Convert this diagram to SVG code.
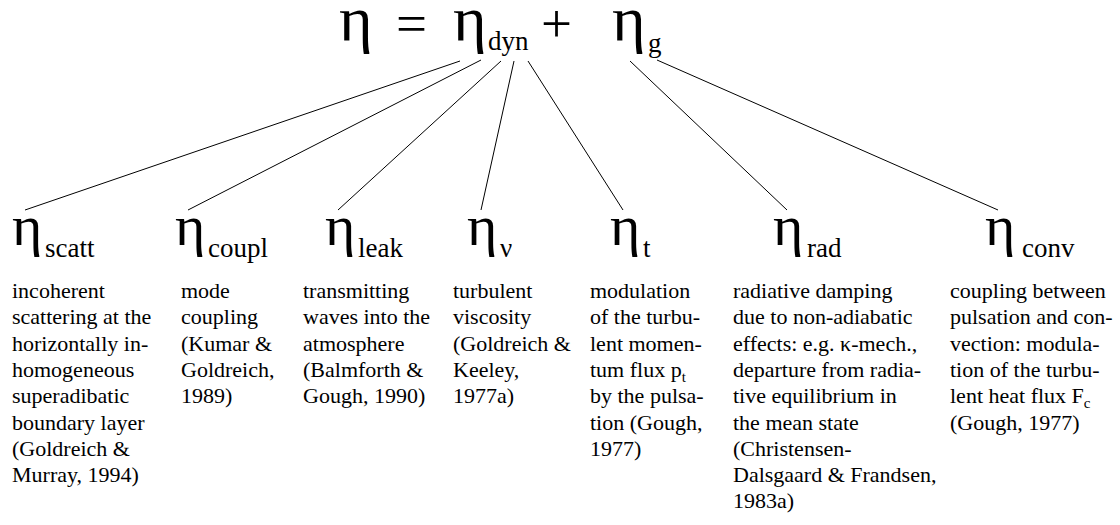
<svg xmlns="http://www.w3.org/2000/svg" width="1120" height="525" viewBox="0 0 1120 525">
<style>
text{font-family:"Liberation Serif","Times New Roman",serif;fill:#000}
.eta{font-size:58px}
.teta{font-size:56px}
.op{font-size:55px}
.sub{font-size:27px}
.body{font-size:22px}
.small{font-size:15px}
line{stroke:#000;stroke-width:1}
</style>
<rect width="1120" height="525" fill="#fff"/>
<g id="title">
<text class="teta" transform="translate(339,40) scale(1.15,1.12)">η</text>
<text class="op" x="396" y="42">=</text>
<text class="teta" transform="translate(453,40) scale(1.15,1.12)">η</text>
<text class="sub" x="488" y="50">dyn</text>
<text class="op" x="541" y="42">+</text>
<text class="teta" transform="translate(612,40) scale(1.15,1.12)">η</text>
<text class="sub" x="648" y="52">g</text>
</g>
<g id="connectors">
<line x1="460" y1="61" x2="25" y2="210"/>
<line x1="481" y1="60" x2="188" y2="210"/>
<line x1="501" y1="61" x2="338" y2="210"/>
<line x1="514" y1="61" x2="481" y2="210"/>
<line x1="528" y1="61" x2="623" y2="210"/>
<line x1="630" y1="61" x2="787" y2="210"/>
<line x1="657" y1="60" x2="998" y2="210"/>
</g>
<g id="scatt">
<text class="eta" x="12" y="245">η</text>
<text class="sub" x="45" y="257">scatt</text>
<text class="body" x="12" y="298">incoherent</text>
<text class="body" x="12" y="324.3">scattering at the</text>
<text class="body" x="12" y="350.6">horizontally in-</text>
<text class="body" x="12" y="376.9">homogeneous</text>
<text class="body" x="12" y="403.2">superadibatic</text>
<text class="body" x="12" y="429.5">boundary layer</text>
<text class="body" x="12" y="455.8">(Goldreich &amp;</text>
<text class="body" x="12" y="482.1">Murray, 1994)</text>
</g>
<g id="coupl">
<text class="eta" x="175" y="245">η</text>
<text class="sub" x="208" y="257">coupl</text>
<text class="body" x="181" y="298">mode</text>
<text class="body" x="181" y="324.3">coupling</text>
<text class="body" x="181" y="350.6">(Kumar &amp;</text>
<text class="body" x="181" y="376.9">Goldreich,</text>
<text class="body" x="181" y="403.2">1989)</text>
</g>
<g id="leak">
<text class="eta" x="325" y="245">η</text>
<text class="sub" x="358" y="257">leak</text>
<text class="body" x="303" y="298">transmitting</text>
<text class="body" x="303" y="324.3">waves into the</text>
<text class="body" x="303" y="350.6">atmosphere</text>
<text class="body" x="303" y="376.9">(Balmforth &amp;</text>
<text class="body" x="303" y="403.2">Gough, 1990)</text>
</g>
<g id="nu">
<text class="eta" x="467" y="245">η</text>
<text class="sub" x="500" y="257">ν</text>
<text class="body" x="453" y="298">turbulent</text>
<text class="body" x="453" y="324.3">viscosity</text>
<text class="body" x="453" y="350.6">(Goldreich &amp;</text>
<text class="body" x="453" y="376.9">Keeley,</text>
<text class="body" x="453" y="403.2">1977a)</text>
</g>
<g id="t">
<text class="eta" x="610" y="245">η</text>
<text class="sub" x="643" y="257">t</text>
<text class="body" x="590" y="298">modulation</text>
<text class="body" x="590" y="324.3">of the turbu-</text>
<text class="body" x="590" y="350.6">lent momen-</text>
<text class="body" x="590" y="376.9">tum flux p<tspan class="small" dy="5">t</tspan></text>
<text class="body" x="590" y="403.2">by the pulsa-</text>
<text class="body" x="590" y="429.5">tion (Gough,</text>
<text class="body" x="590" y="455.8">1977)</text>
</g>
<g id="rad">
<text class="eta" x="773" y="245">η</text>
<text class="sub" x="807" y="257">rad</text>
<text class="body" x="733" y="298">radiative damping</text>
<text class="body" x="733" y="324.3">due to non-adiabatic</text>
<text class="body" x="733" y="350.6">effects: e.g.  κ-mech.,</text>
<text class="body" x="733" y="376.9">departure from radia-</text>
<text class="body" x="733" y="403.2">tive equilibrium in</text>
<text class="body" x="733" y="429.5">the mean state</text>
<text class="body" x="733" y="455.8">(Christensen-</text>
<text class="body" x="733" y="482.1">Dalsgaard &amp; Frandsen,</text>
<text class="body" x="733" y="508.4">1983a)</text>
</g>
<g id="conv">
<text class="eta" x="985" y="245">η</text>
<text class="sub" x="1022" y="257">conv</text>
<text class="body" x="950" y="298">coupling between</text>
<text class="body" x="950" y="324.3">pulsation and con-</text>
<text class="body" x="950" y="350.6">vection: modula-</text>
<text class="body" x="950" y="376.9">tion of the turbu-</text>
<text class="body" x="950" y="403.2">lent heat flux F<tspan class="small" dy="5">c</tspan></text>
<text class="body" x="950" y="429.5">(Gough, 1977)</text>
</g>
</svg>
